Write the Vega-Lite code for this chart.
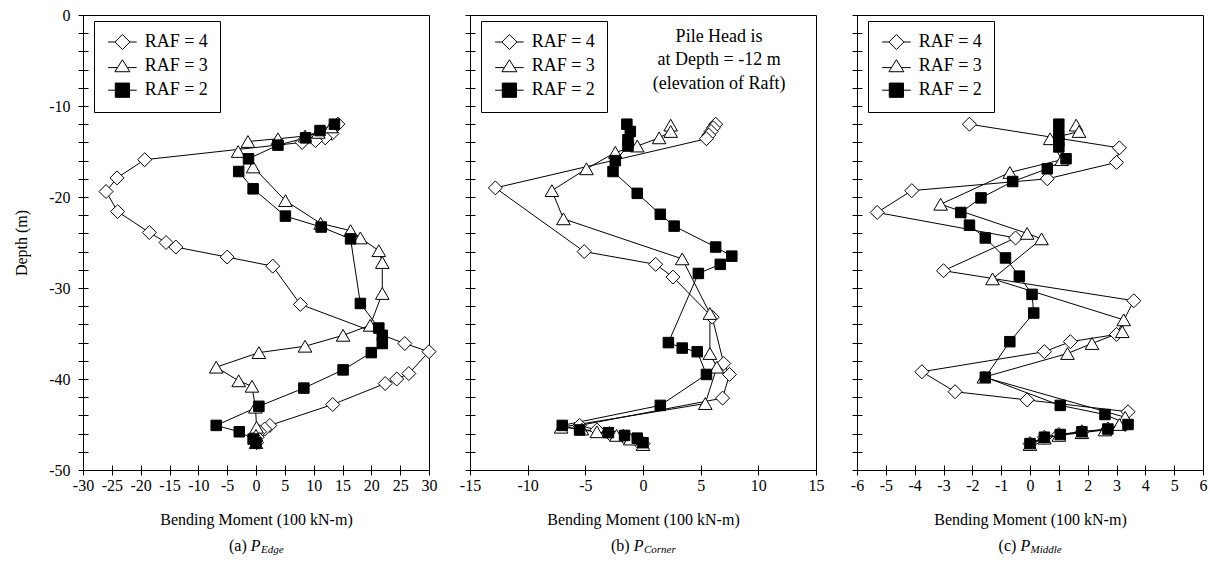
{
  "$schema": "https://vega.github.io/schema/vega-lite/v6.json",
  "padding": {"left": 13, "top": 6, "right": 0, "bottom": 0},
  "bounds": "flush",
  "spacing": 41,
  "datasets": {
    "pts": [
      {"panel":"a","RAF":4,"moment":14.2,"depth":-12.0},
      {"panel":"a","RAF":4,"moment":13.2,"depth":-13.0},
      {"panel":"a","RAF":4,"moment":12.0,"depth":-13.5},
      {"panel":"a","RAF":4,"moment":10.3,"depth":-13.8},
      {"panel":"a","RAF":4,"moment":8.0,"depth":-14.0},
      {"panel":"a","RAF":4,"moment":-19.3,"depth":-15.9},
      {"panel":"a","RAF":4,"moment":-24.1,"depth":-17.9},
      {"panel":"a","RAF":4,"moment":-26.0,"depth":-19.4},
      {"panel":"a","RAF":4,"moment":-24.0,"depth":-21.6},
      {"panel":"a","RAF":4,"moment":-18.5,"depth":-23.9},
      {"panel":"a","RAF":4,"moment":-15.6,"depth":-25.0},
      {"panel":"a","RAF":4,"moment":-13.9,"depth":-25.5},
      {"panel":"a","RAF":4,"moment":-5.0,"depth":-26.6},
      {"panel":"a","RAF":4,"moment":2.9,"depth":-27.6},
      {"panel":"a","RAF":4,"moment":7.7,"depth":-31.8},
      {"panel":"a","RAF":4,"moment":25.8,"depth":-36.1},
      {"panel":"a","RAF":4,"moment":30.0,"depth":-37.0},
      {"panel":"a","RAF":4,"moment":26.5,"depth":-39.4},
      {"panel":"a","RAF":4,"moment":24.4,"depth":-40.0},
      {"panel":"a","RAF":4,"moment":22.4,"depth":-40.5},
      {"panel":"a","RAF":4,"moment":13.3,"depth":-42.8},
      {"panel":"a","RAF":4,"moment":2.4,"depth":-45.1},
      {"panel":"a","RAF":4,"moment":1.5,"depth":-45.5},
      {"panel":"a","RAF":4,"moment":0.6,"depth":-45.8},
      {"panel":"a","RAF":4,"moment":0.2,"depth":-46.4},
      {"panel":"a","RAF":4,"moment":0.1,"depth":-47.0},
      {"panel":"a","RAF":3,"moment":13.0,"depth":-12.3},
      {"panel":"a","RAF":3,"moment":10.8,"depth":-12.9},
      {"panel":"a","RAF":3,"moment":8.5,"depth":-13.3},
      {"panel":"a","RAF":3,"moment":3.8,"depth":-13.6},
      {"panel":"a","RAF":3,"moment":-1.4,"depth":-13.9},
      {"panel":"a","RAF":3,"moment":-3.1,"depth":-15.0},
      {"panel":"a","RAF":3,"moment":-0.5,"depth":-16.7},
      {"panel":"a","RAF":3,"moment":5.1,"depth":-20.4},
      {"panel":"a","RAF":3,"moment":11.2,"depth":-22.9},
      {"panel":"a","RAF":3,"moment":16.4,"depth":-23.7},
      {"panel":"a","RAF":3,"moment":18.1,"depth":-24.5},
      {"panel":"a","RAF":3,"moment":21.3,"depth":-25.9},
      {"panel":"a","RAF":3,"moment":21.9,"depth":-27.2},
      {"panel":"a","RAF":3,"moment":21.9,"depth":-30.6},
      {"panel":"a","RAF":3,"moment":19.8,"depth":-34.1},
      {"panel":"a","RAF":3,"moment":15.1,"depth":-35.2},
      {"panel":"a","RAF":3,"moment":8.5,"depth":-36.4},
      {"panel":"a","RAF":3,"moment":0.5,"depth":-37.1},
      {"panel":"a","RAF":3,"moment":-6.9,"depth":-38.7},
      {"panel":"a","RAF":3,"moment":-3.0,"depth":-40.2},
      {"panel":"a","RAF":3,"moment":-0.7,"depth":-40.8},
      {"panel":"a","RAF":3,"moment":-0.1,"depth":-43.1},
      {"panel":"a","RAF":3,"moment":0.1,"depth":-45.3},
      {"panel":"a","RAF":3,"moment":0.0,"depth":-46.2},
      {"panel":"a","RAF":3,"moment":0.0,"depth":-47.0},
      {"panel":"a","RAF":2,"moment":13.6,"depth":-12.0},
      {"panel":"a","RAF":2,"moment":11.1,"depth":-12.7},
      {"panel":"a","RAF":2,"moment":8.6,"depth":-13.5},
      {"panel":"a","RAF":2,"moment":3.8,"depth":-14.3},
      {"panel":"a","RAF":2,"moment":-1.3,"depth":-15.8},
      {"panel":"a","RAF":2,"moment":-3.0,"depth":-17.2},
      {"panel":"a","RAF":2,"moment":-0.5,"depth":-19.1},
      {"panel":"a","RAF":2,"moment":5.1,"depth":-22.1},
      {"panel":"a","RAF":2,"moment":11.3,"depth":-23.3},
      {"panel":"a","RAF":2,"moment":16.4,"depth":-24.6},
      {"panel":"a","RAF":2,"moment":18.1,"depth":-31.7},
      {"panel":"a","RAF":2,"moment":21.3,"depth":-34.4},
      {"panel":"a","RAF":2,"moment":21.9,"depth":-35.2},
      {"panel":"a","RAF":2,"moment":21.9,"depth":-36.1},
      {"panel":"a","RAF":2,"moment":20.0,"depth":-37.1},
      {"panel":"a","RAF":2,"moment":15.1,"depth":-39.0},
      {"panel":"a","RAF":2,"moment":8.3,"depth":-41.0},
      {"panel":"a","RAF":2,"moment":0.5,"depth":-43.0},
      {"panel":"a","RAF":2,"moment":-6.9,"depth":-45.1},
      {"panel":"a","RAF":2,"moment":-2.9,"depth":-45.8},
      {"panel":"a","RAF":2,"moment":-0.5,"depth":-46.6},
      {"panel":"a","RAF":2,"moment":0.0,"depth":-47.0},

      {"panel":"b","RAF":4,"moment":6.3,"depth":-12.0},
      {"panel":"b","RAF":4,"moment":6.1,"depth":-12.4},
      {"panel":"b","RAF":4,"moment":5.9,"depth":-12.8},
      {"panel":"b","RAF":4,"moment":5.7,"depth":-13.2},
      {"panel":"b","RAF":4,"moment":5.5,"depth":-13.6},
      {"panel":"b","RAF":4,"moment":-12.8,"depth":-19.0},
      {"panel":"b","RAF":4,"moment":-5.1,"depth":-26.0},
      {"panel":"b","RAF":4,"moment":1.1,"depth":-27.4},
      {"panel":"b","RAF":4,"moment":2.6,"depth":-28.8},
      {"panel":"b","RAF":4,"moment":6.0,"depth":-33.2},
      {"panel":"b","RAF":4,"moment":7.0,"depth":-38.3},
      {"panel":"b","RAF":4,"moment":7.5,"depth":-39.5},
      {"panel":"b","RAF":4,"moment":6.9,"depth":-42.1},
      {"panel":"b","RAF":4,"moment":-5.5,"depth":-45.1},
      {"panel":"b","RAF":4,"moment":-4.0,"depth":-45.6},
      {"panel":"b","RAF":4,"moment":-2.9,"depth":-46.0},
      {"panel":"b","RAF":4,"moment":-1.7,"depth":-46.3},
      {"panel":"b","RAF":4,"moment":-0.5,"depth":-46.8},
      {"panel":"b","RAF":4,"moment":0.0,"depth":-47.1},
      {"panel":"b","RAF":3,"moment":2.4,"depth":-12.1},
      {"panel":"b","RAF":3,"moment":2.4,"depth":-12.8},
      {"panel":"b","RAF":3,"moment":1.4,"depth":-13.5},
      {"panel":"b","RAF":3,"moment":-0.5,"depth":-14.4},
      {"panel":"b","RAF":3,"moment":-2.4,"depth":-15.1},
      {"panel":"b","RAF":3,"moment":-4.9,"depth":-16.9},
      {"panel":"b","RAF":3,"moment":-7.9,"depth":-19.3},
      {"panel":"b","RAF":3,"moment":-6.9,"depth":-22.4},
      {"panel":"b","RAF":3,"moment":3.4,"depth":-26.8},
      {"panel":"b","RAF":3,"moment":5.8,"depth":-32.8},
      {"panel":"b","RAF":3,"moment":5.8,"depth":-37.2},
      {"panel":"b","RAF":3,"moment":6.4,"depth":-38.7},
      {"panel":"b","RAF":3,"moment":5.4,"depth":-42.7},
      {"panel":"b","RAF":3,"moment":-7.1,"depth":-45.3},
      {"panel":"b","RAF":3,"moment":-5.3,"depth":-45.5},
      {"panel":"b","RAF":3,"moment":-4.0,"depth":-45.8},
      {"panel":"b","RAF":3,"moment":-2.3,"depth":-46.2},
      {"panel":"b","RAF":3,"moment":-1.1,"depth":-46.6},
      {"panel":"b","RAF":3,"moment":0.0,"depth":-47.2},
      {"panel":"b","RAF":2,"moment":-1.4,"depth":-12.0},
      {"panel":"b","RAF":2,"moment":-1.1,"depth":-12.8},
      {"panel":"b","RAF":2,"moment":-1.3,"depth":-13.7},
      {"panel":"b","RAF":2,"moment":-1.3,"depth":-14.4},
      {"panel":"b","RAF":2,"moment":-2.4,"depth":-16.0},
      {"panel":"b","RAF":2,"moment":-2.6,"depth":-17.2},
      {"panel":"b","RAF":2,"moment":-0.5,"depth":-19.6},
      {"panel":"b","RAF":2,"moment":1.5,"depth":-21.9},
      {"panel":"b","RAF":2,"moment":2.7,"depth":-23.2},
      {"panel":"b","RAF":2,"moment":6.3,"depth":-25.5},
      {"panel":"b","RAF":2,"moment":7.7,"depth":-26.5},
      {"panel":"b","RAF":2,"moment":6.7,"depth":-27.4},
      {"panel":"b","RAF":2,"moment":4.8,"depth":-28.4},
      {"panel":"b","RAF":2,"moment":2.2,"depth":-36.0},
      {"panel":"b","RAF":2,"moment":3.4,"depth":-36.6},
      {"panel":"b","RAF":2,"moment":4.7,"depth":-37.0},
      {"panel":"b","RAF":2,"moment":5.5,"depth":-39.5},
      {"panel":"b","RAF":2,"moment":1.5,"depth":-42.9},
      {"panel":"b","RAF":2,"moment":-7.0,"depth":-45.1},
      {"panel":"b","RAF":2,"moment":-5.5,"depth":-45.6},
      {"panel":"b","RAF":2,"moment":-3.0,"depth":-45.9},
      {"panel":"b","RAF":2,"moment":-1.6,"depth":-46.2},
      {"panel":"b","RAF":2,"moment":-0.5,"depth":-46.5},
      {"panel":"b","RAF":2,"moment":0.0,"depth":-47.0},

      {"panel":"c","RAF":4,"moment":-2.1,"depth":-12.0},
      {"panel":"c","RAF":4,"moment":3.1,"depth":-14.6},
      {"panel":"c","RAF":4,"moment":3.0,"depth":-16.2},
      {"panel":"c","RAF":4,"moment":0.6,"depth":-18.0},
      {"panel":"c","RAF":4,"moment":-4.1,"depth":-19.3},
      {"panel":"c","RAF":4,"moment":-5.3,"depth":-21.7},
      {"panel":"c","RAF":4,"moment":-0.5,"depth":-24.5},
      {"panel":"c","RAF":4,"moment":-3.0,"depth":-28.1},
      {"panel":"c","RAF":4,"moment":3.6,"depth":-31.4},
      {"panel":"c","RAF":4,"moment":3.0,"depth":-35.1},
      {"panel":"c","RAF":4,"moment":1.4,"depth":-35.9},
      {"panel":"c","RAF":4,"moment":0.5,"depth":-37.0},
      {"panel":"c","RAF":4,"moment":-3.75,"depth":-39.2},
      {"panel":"c","RAF":4,"moment":-2.6,"depth":-41.4},
      {"panel":"c","RAF":4,"moment":-0.1,"depth":-42.3},
      {"panel":"c","RAF":4,"moment":3.4,"depth":-43.6},
      {"panel":"c","RAF":4,"moment":3.3,"depth":-45.0},
      {"panel":"c","RAF":4,"moment":2.7,"depth":-45.5},
      {"panel":"c","RAF":4,"moment":1.8,"depth":-45.8},
      {"panel":"c","RAF":4,"moment":1.0,"depth":-46.1},
      {"panel":"c","RAF":4,"moment":0.5,"depth":-46.4},
      {"panel":"c","RAF":4,"moment":0.0,"depth":-47.1},
      {"panel":"c","RAF":3,"moment":1.6,"depth":-12.1},
      {"panel":"c","RAF":3,"moment":1.7,"depth":-12.8},
      {"panel":"c","RAF":3,"moment":0.7,"depth":-13.6},
      {"panel":"c","RAF":3,"moment":1.1,"depth":-15.9},
      {"panel":"c","RAF":3,"moment":-0.7,"depth":-17.3},
      {"panel":"c","RAF":3,"moment":-3.1,"depth":-20.8},
      {"panel":"c","RAF":3,"moment":-0.1,"depth":-24.0},
      {"panel":"c","RAF":3,"moment":0.4,"depth":-24.6},
      {"panel":"c","RAF":3,"moment":-1.3,"depth":-29.0},
      {"panel":"c","RAF":3,"moment":3.25,"depth":-33.5},
      {"panel":"c","RAF":3,"moment":3.2,"depth":-34.8},
      {"panel":"c","RAF":3,"moment":2.15,"depth":-36.1},
      {"panel":"c","RAF":3,"moment":1.3,"depth":-37.2},
      {"panel":"c","RAF":3,"moment":-1.6,"depth":-39.8},
      {"panel":"c","RAF":3,"moment":3.3,"depth":-44.2},
      {"panel":"c","RAF":3,"moment":3.1,"depth":-45.0},
      {"panel":"c","RAF":3,"moment":2.6,"depth":-45.6},
      {"panel":"c","RAF":3,"moment":1.8,"depth":-45.9},
      {"panel":"c","RAF":3,"moment":1.0,"depth":-46.2},
      {"panel":"c","RAF":3,"moment":0.5,"depth":-46.5},
      {"panel":"c","RAF":3,"moment":0.0,"depth":-47.2},
      {"panel":"c","RAF":2,"moment":1.0,"depth":-12.0},
      {"panel":"c","RAF":2,"moment":1.0,"depth":-13.2},
      {"panel":"c","RAF":2,"moment":1.0,"depth":-13.9},
      {"panel":"c","RAF":2,"moment":1.0,"depth":-14.5},
      {"panel":"c","RAF":2,"moment":1.25,"depth":-15.8},
      {"panel":"c","RAF":2,"moment":0.6,"depth":-16.9},
      {"panel":"c","RAF":2,"moment":-0.6,"depth":-18.3},
      {"panel":"c","RAF":2,"moment":-1.7,"depth":-20.1},
      {"panel":"c","RAF":2,"moment":-2.4,"depth":-21.7},
      {"panel":"c","RAF":2,"moment":-2.1,"depth":-23.1},
      {"panel":"c","RAF":2,"moment":-1.55,"depth":-24.5},
      {"panel":"c","RAF":2,"moment":-0.85,"depth":-26.7},
      {"panel":"c","RAF":2,"moment":-0.37,"depth":-28.7},
      {"panel":"c","RAF":2,"moment":0.07,"depth":-30.7},
      {"panel":"c","RAF":2,"moment":0.13,"depth":-32.75},
      {"panel":"c","RAF":2,"moment":-0.7,"depth":-35.9},
      {"panel":"c","RAF":2,"moment":-1.55,"depth":-39.8},
      {"panel":"c","RAF":2,"moment":1.05,"depth":-42.9},
      {"panel":"c","RAF":2,"moment":2.6,"depth":-43.9},
      {"panel":"c","RAF":2,"moment":3.4,"depth":-45.0},
      {"panel":"c","RAF":2,"moment":2.7,"depth":-45.5},
      {"panel":"c","RAF":2,"moment":1.8,"depth":-45.8},
      {"panel":"c","RAF":2,"moment":1.05,"depth":-46.1},
      {"panel":"c","RAF":2,"moment":0.5,"depth":-46.4},
      {"panel":"c","RAF":2,"moment":0.0,"depth":-47.1}
    ]
  },
  "hconcat": [
    {
      "width": 346, "height": 455,
      "layer": [
        {
          "data": {"name": "pts"},
          "transform": [{"filter": "datum.panel === 'a'"}],
          "mark": {"type": "line", "stroke": "black", "strokeWidth": 1},
          "encoding": {
            "x": {"field": "moment", "type": "quantitative", "scale": {"domain": [-30, 30], "nice": false, "zero": false},
                  "axis": {"values": [-30,-25,-20,-15,-10,-5,0,5,10,15,20,25,30], "tickCount": 100, "labelExpr": "'' + datum.value", "labelOverlap": false, "labelBound": false, "title": "Bending Moment (100 kN-m)"}},
            "y": {"field": "depth", "type": "quantitative", "scale": {"domain": [-50, 0], "nice": false, "zero": false},
                  "axis": {"values": [0,-2,-4,-6,-8,-10,-12,-14,-16,-18,-20,-22,-24,-26,-28,-30,-32,-34,-36,-38,-40,-42,-44,-46,-48,-50], "tickCount": 100,
                           "labelExpr": "(datum.value % 10 === 0) ? ('' + datum.value) : ''", "labelOverlap": false, "labelBound": false, "title": "Depth (m)"}},
            "detail": {"field": "RAF", "type": "nominal"},
            "order": {"field": "depth", "sort": "descending"}
          }
        },
        {
          "data": {"name": "pts"},
          "transform": [{"filter": "datum.panel === 'a' && datum.RAF === 4"}],
          "mark": {"type": "point", "shape": "diamond", "size": 196, "filled": true, "fill": "white", "stroke": "black", "strokeWidth": 1, "opacity": 1},
          "encoding": {"x": {"field": "moment", "type": "quantitative"}, "y": {"field": "depth", "type": "quantitative"}}
        },
        {
          "data": {"name": "pts"},
          "transform": [{"filter": "datum.panel === 'a' && datum.RAF === 3"}],
          "mark": {"type": "point", "shape": "triangle-up", "size": 185, "filled": true, "fill": "white", "stroke": "black", "strokeWidth": 1, "opacity": 1},
          "encoding": {"x": {"field": "moment", "type": "quantitative"}, "y": {"field": "depth", "type": "quantitative"}}
        },
        {
          "data": {"name": "pts"},
          "transform": [{"filter": "datum.panel === 'a' && datum.RAF === 2"}],
          "mark": {"type": "point", "shape": "square", "size": 110, "filled": true, "fill": "black", "stroke": "black", "strokeWidth": 1, "opacity": 1},
          "encoding": {"x": {"field": "moment", "type": "quantitative"}, "y": {"field": "depth", "type": "quantitative"}}
        },
        {
          "data": {"name": "pts"},
          "transform": [{"filter": "false"}],
          "mark": {"type": "point", "filled": true, "strokeWidth": 1, "opacity": 1},
          "encoding": {
            "shape": {"field": "series", "type": "nominal", "scale": {"domain": ["RAF = 4", "RAF = 3", "RAF = 2"], "range": ["M-1.9,0L-1,0M1,0L1.9,0M-1,0L0,-1L1,0L0,1Z", "M-1.9,0.2L-0.66,0.2M0.66,0.2L1.9,0.2M0,-0.85L1,0.75L-1,0.75Z", "M-1.9,0L-0.95,0M0.95,0L1.9,0M-0.95,-0.95L0.95,-0.95L0.95,0.95L-0.95,0.95Z"]},
                      "legend": {"title": null, "orient": "none", "legendX": 11, "legendY": 6}},
            "fill": {"field": "series", "type": "nominal", "scale": {"domain": ["RAF = 4", "RAF = 3", "RAF = 2"], "range": ["white", "white", "black"]},
                     "legend": {"title": null, "orient": "none", "legendX": 11, "legendY": 6}},
            "stroke": {"field": "series", "type": "nominal", "scale": {"domain": ["RAF = 4", "RAF = 3", "RAF = 2"], "range": ["black", "black", "black"]},
                     "legend": {"title": null, "orient": "none", "legendX": 11, "legendY": 6}}
          }
        },
        {"data": {"values": [{}]}, "mark": {"type": "text", "text": "(a)", "align": "left", "baseline": "middle", "dx": -27, "fontSize": 16, "font": "Liberation Serif", "color": "black"},
         "encoding": {"x": {"datum": 0}, "y": {"datum": -58.3}}},
        {"data": {"values": [{}]}, "mark": {"type": "text", "text": "P", "align": "left", "baseline": "middle", "dx": -5.3, "fontSize": 16, "fontStyle": "italic", "font": "Liberation Serif", "color": "black"},
         "encoding": {"x": {"datum": 0}, "y": {"datum": -58.3}}},
        {"data": {"values": [{}]}, "mark": {"type": "text", "text": "Edge", "align": "left", "baseline": "middle", "dx": 5, "dy": 4, "fontSize": 11, "fontStyle": "italic", "font": "Liberation Serif", "color": "black"},
         "encoding": {"x": {"datum": 0}, "y": {"datum": -58.3}}}
      ]
    },
    {
      "width": 346, "height": 455,
      "layer": [
        {
          "data": {"name": "pts"},
          "transform": [{"filter": "datum.panel === 'b'"}],
          "mark": {"type": "line", "stroke": "black", "strokeWidth": 1},
          "encoding": {
            "x": {"field": "moment", "type": "quantitative", "scale": {"domain": [-15, 15], "nice": false, "zero": false},
                  "axis": {"values": [-15,-10,-5,0,5,10,15], "tickCount": 100, "labelExpr": "'' + datum.value", "labelOverlap": false, "labelBound": false, "title": "Bending Moment (100 kN-m)"}},
            "y": {"field": "depth", "type": "quantitative", "scale": {"domain": [-50, 0], "nice": false, "zero": false},
                  "axis": {"values": [0,-2,-4,-6,-8,-10,-12,-14,-16,-18,-20,-22,-24,-26,-28,-30,-32,-34,-36,-38,-40,-42,-44,-46,-48,-50], "tickCount": 100,
                           "labels": false, "title": null}},
            "detail": {"field": "RAF", "type": "nominal"},
            "order": {"field": "depth", "sort": "descending"}
          }
        },
        {
          "data": {"name": "pts"},
          "transform": [{"filter": "datum.panel === 'b' && datum.RAF === 4"}],
          "mark": {"type": "point", "shape": "diamond", "size": 196, "filled": true, "fill": "white", "stroke": "black", "strokeWidth": 1, "opacity": 1},
          "encoding": {"x": {"field": "moment", "type": "quantitative"}, "y": {"field": "depth", "type": "quantitative"}}
        },
        {
          "data": {"name": "pts"},
          "transform": [{"filter": "datum.panel === 'b' && datum.RAF === 3"}],
          "mark": {"type": "point", "shape": "triangle-up", "size": 185, "filled": true, "fill": "white", "stroke": "black", "strokeWidth": 1, "opacity": 1},
          "encoding": {"x": {"field": "moment", "type": "quantitative"}, "y": {"field": "depth", "type": "quantitative"}}
        },
        {
          "data": {"name": "pts"},
          "transform": [{"filter": "datum.panel === 'b' && datum.RAF === 2"}],
          "mark": {"type": "point", "shape": "square", "size": 110, "filled": true, "fill": "black", "stroke": "black", "strokeWidth": 1, "opacity": 1},
          "encoding": {"x": {"field": "moment", "type": "quantitative"}, "y": {"field": "depth", "type": "quantitative"}}
        },
        {
          "data": {"name": "pts"},
          "transform": [{"filter": "false"}],
          "mark": {"type": "point", "filled": true, "strokeWidth": 1, "opacity": 1},
          "encoding": {
            "shape": {"field": "series", "type": "nominal", "scale": {"domain": ["RAF = 4", "RAF = 3", "RAF = 2"], "range": ["M-1.9,0L-1,0M1,0L1.9,0M-1,0L0,-1L1,0L0,1Z", "M-1.9,0.2L-0.66,0.2M0.66,0.2L1.9,0.2M0,-0.85L1,0.75L-1,0.75Z", "M-1.9,0L-0.95,0M0.95,0L1.9,0M-0.95,-0.95L0.95,-0.95L0.95,0.95L-0.95,0.95Z"]},
                      "legend": {"title": null, "orient": "none", "legendX": 11, "legendY": 6}},
            "fill": {"field": "series", "type": "nominal", "scale": {"domain": ["RAF = 4", "RAF = 3", "RAF = 2"], "range": ["white", "white", "black"]},
                     "legend": {"title": null, "orient": "none", "legendX": 11, "legendY": 6}},
            "stroke": {"field": "series", "type": "nominal", "scale": {"domain": ["RAF = 4", "RAF = 3", "RAF = 2"], "range": ["black", "black", "black"]},
                     "legend": {"title": null, "orient": "none", "legendX": 11, "legendY": 6}}
          }
        },
        {"data": {"values": [{}]}, "mark": {"type": "text", "text": ["Pile Head is", "at Depth = -12 m", "(elevation of Raft)"], "align": "center", "baseline": "middle", "lineHeight": 23.5, "fontSize": 18, "font": "Liberation Serif", "color": "black"},
         "encoding": {"x": {"datum": 6.6}, "y": {"datum": -2.4}}},
        {"data": {"values": [{}]}, "mark": {"type": "text", "text": "(b)", "align": "left", "baseline": "middle", "dx": -32, "fontSize": 16, "font": "Liberation Serif", "color": "black"},
         "encoding": {"x": {"datum": 0}, "y": {"datum": -58.3}}},
        {"data": {"values": [{}]}, "mark": {"type": "text", "text": "P", "align": "left", "baseline": "middle", "dx": -9.3, "fontSize": 16, "fontStyle": "italic", "font": "Liberation Serif", "color": "black"},
         "encoding": {"x": {"datum": 0}, "y": {"datum": -58.3}}},
        {"data": {"values": [{}]}, "mark": {"type": "text", "text": "Corner", "align": "left", "baseline": "middle", "dx": 1, "dy": 4, "fontSize": 11, "fontStyle": "italic", "font": "Liberation Serif", "color": "black"},
         "encoding": {"x": {"datum": 0}, "y": {"datum": -58.3}}}
      ]
    },
    {
      "width": 346, "height": 455,
      "layer": [
        {
          "data": {"name": "pts"},
          "transform": [{"filter": "datum.panel === 'c'"}],
          "mark": {"type": "line", "stroke": "black", "strokeWidth": 1},
          "encoding": {
            "x": {"field": "moment", "type": "quantitative", "scale": {"domain": [-6, 6], "nice": false, "zero": false},
                  "axis": {"values": [-6,-5,-4,-3,-2,-1,0,1,2,3,4,5,6], "tickCount": 100, "labelExpr": "'' + datum.value", "labelOverlap": false, "labelBound": false, "title": "Bending Moment (100 kN-m)"}},
            "y": {"field": "depth", "type": "quantitative", "scale": {"domain": [-50, 0], "nice": false, "zero": false},
                  "axis": {"values": [0,-2,-4,-6,-8,-10,-12,-14,-16,-18,-20,-22,-24,-26,-28,-30,-32,-34,-36,-38,-40,-42,-44,-46,-48,-50], "tickCount": 100,
                           "labels": false, "title": null}},
            "detail": {"field": "RAF", "type": "nominal"},
            "order": {"field": "depth", "sort": "descending"}
          }
        },
        {
          "data": {"name": "pts"},
          "transform": [{"filter": "datum.panel === 'c' && datum.RAF === 4"}],
          "mark": {"type": "point", "shape": "diamond", "size": 196, "filled": true, "fill": "white", "stroke": "black", "strokeWidth": 1, "opacity": 1},
          "encoding": {"x": {"field": "moment", "type": "quantitative"}, "y": {"field": "depth", "type": "quantitative"}}
        },
        {
          "data": {"name": "pts"},
          "transform": [{"filter": "datum.panel === 'c' && datum.RAF === 3"}],
          "mark": {"type": "point", "shape": "triangle-up", "size": 185, "filled": true, "fill": "white", "stroke": "black", "strokeWidth": 1, "opacity": 1},
          "encoding": {"x": {"field": "moment", "type": "quantitative"}, "y": {"field": "depth", "type": "quantitative"}}
        },
        {
          "data": {"name": "pts"},
          "transform": [{"filter": "datum.panel === 'c' && datum.RAF === 2"}],
          "mark": {"type": "point", "shape": "square", "size": 110, "filled": true, "fill": "black", "stroke": "black", "strokeWidth": 1, "opacity": 1},
          "encoding": {"x": {"field": "moment", "type": "quantitative"}, "y": {"field": "depth", "type": "quantitative"}}
        },
        {
          "data": {"name": "pts"},
          "transform": [{"filter": "false"}],
          "mark": {"type": "point", "filled": true, "strokeWidth": 1, "opacity": 1},
          "encoding": {
            "shape": {"field": "series", "type": "nominal", "scale": {"domain": ["RAF = 4", "RAF = 3", "RAF = 2"], "range": ["M-1.9,0L-1,0M1,0L1.9,0M-1,0L0,-1L1,0L0,1Z", "M-1.9,0.2L-0.66,0.2M0.66,0.2L1.9,0.2M0,-0.85L1,0.75L-1,0.75Z", "M-1.9,0L-0.95,0M0.95,0L1.9,0M-0.95,-0.95L0.95,-0.95L0.95,0.95L-0.95,0.95Z"]},
                      "legend": {"title": null, "orient": "none", "legendX": 11, "legendY": 6}},
            "fill": {"field": "series", "type": "nominal", "scale": {"domain": ["RAF = 4", "RAF = 3", "RAF = 2"], "range": ["white", "white", "black"]},
                     "legend": {"title": null, "orient": "none", "legendX": 11, "legendY": 6}},
            "stroke": {"field": "series", "type": "nominal", "scale": {"domain": ["RAF = 4", "RAF = 3", "RAF = 2"], "range": ["black", "black", "black"]},
                     "legend": {"title": null, "orient": "none", "legendX": 11, "legendY": 6}}
          }
        },
        {"data": {"values": [{}]}, "mark": {"type": "text", "text": "(c)", "align": "left", "baseline": "middle", "dx": -31.4, "fontSize": 16, "font": "Liberation Serif", "color": "black"},
         "encoding": {"x": {"datum": 0}, "y": {"datum": -58.3}}},
        {"data": {"values": [{}]}, "mark": {"type": "text", "text": "P", "align": "left", "baseline": "middle", "dx": -9.6, "fontSize": 16, "fontStyle": "italic", "font": "Liberation Serif", "color": "black"},
         "encoding": {"x": {"datum": 0}, "y": {"datum": -58.3}}},
        {"data": {"values": [{}]}, "mark": {"type": "text", "text": "Middle", "align": "left", "baseline": "middle", "dx": 0.5, "dy": 4, "fontSize": 11, "fontStyle": "italic", "font": "Liberation Serif", "color": "black"},
         "encoding": {"x": {"datum": 0}, "y": {"datum": -58.3}}}
      ]
    }
  ],
  "resolve": {
    "scale": {"shape": "independent", "fill": "independent", "stroke": "independent"},
    "legend": {"shape": "independent", "fill": "independent", "stroke": "independent"}
  },
  "config": {
    "font": "Liberation Serif",
    "background": "white",
    "view": {"stroke": "black", "strokeWidth": 1},
    "axis": {"domain": false, "grid": false, "tickColor": "black", "tickWidth": 1, "labelColor": "black", "labelFont": "Liberation Serif", "labelFontSize": 16,
             "titleFont": "Liberation Serif", "titleFontSize": 16, "titleFontWeight": "normal", "titleColor": "black", "labelFlush": false, "labelOverlap": false},
    "axisX": {"offset": -5, "tickSize": 10, "labelPadding": 2, "titlePadding": 18},
    "axisY": {"offset": -5, "tickSize": 10, "labelPadding": 8, "titlePadding": 19},
    "legend": {"labelFont": "Liberation Serif", "labelFontSize": 18, "labelColor": "black", "symbolSize": 225, "symbolStrokeColor": "black", "symbolStrokeWidth": 1,
               "strokeColor": "black", "fillColor": "white", "padding": 12, "symbolOffset": 7.4, "labelOffset": 13.3, "rowPadding": 5.1, "cornerRadius": 0, "labelLimit": 300}
  }
}
